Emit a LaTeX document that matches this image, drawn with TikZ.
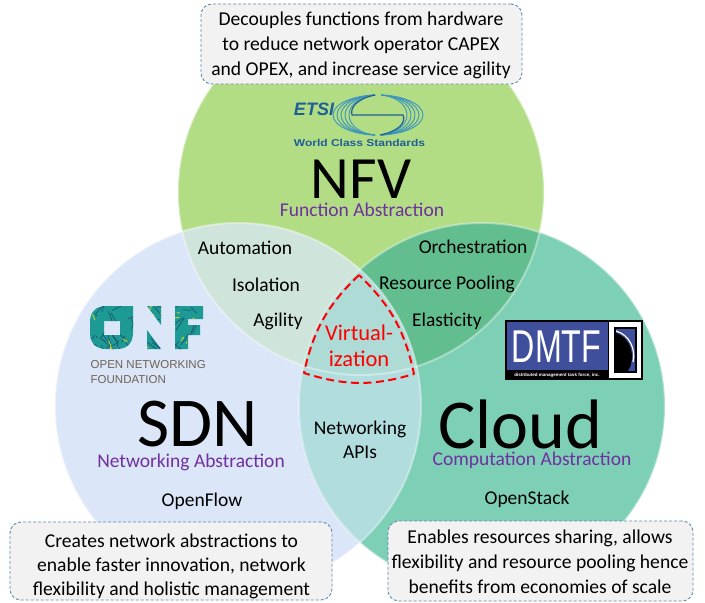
\documentclass[tikz,border=0pt]{standalone}
\usepackage{fontspec}
\setmainfont{Carlito}
\newfontfamily\logofont{Liberation Sans}
\definecolor{nfvc}{HTML}{B2DD85}
\definecolor{sdnc}{HTML}{DCE6F9}
\definecolor{cloudc}{HTML}{7DD0B6}
\definecolor{nsc}{HTML}{CFE4DA}
\definecolor{ncc}{HTML}{62BE8E}
\definecolor{scc}{HTML}{B2DDDE}
\definecolor{allc}{HTML}{AEDBD6}
\definecolor{purp}{HTML}{7030A0}
\definecolor{boxline}{HTML}{5F87B0}
\definecolor{etsib}{HTML}{1F5F96}
\definecolor{etsil}{HTML}{3E95BE}
\definecolor{onfg}{HTML}{1E9A94}
\definecolor{onfy}{HTML}{B9D038}
\definecolor{onfd}{HTML}{1B4D6B}
\definecolor{onft}{HTML}{6E6253}
\definecolor{dmtfb}{HTML}{3F4F9C}
\newcommand{\cN}{(361,192) circle[radius=183]}
\newcommand{\cS}{(238,406) circle[radius=183]}
\newcommand{\cC}{(482,406) circle[radius=183]}
\newcommand{\fs}[1]{\fontsize{#1}{#1}\selectfont}
\tikzset{
  x=1pt,y=-1pt,
  rim/.style={draw=white,draw opacity=.38,line width=2pt},
  note/.style={rectangle,rounded corners=11pt,draw=boxline,dash pattern=on 3pt off 2pt,line width=.9pt,fill=black!5,text=black,inner sep=0pt},
  notetext/.style={font=\fs{19.6},text=black,inner sep=0pt},
  big/.style={font=\fs{60},text=black,inner sep=0pt},
  bigger/.style={font=\fs{70},text=black,inner sep=0pt},
  abstr/.style={font=\fs{19.5},text=purp,inner sep=0pt},
  label/.style={font=\fs{19.5},text=black,inner sep=0pt},
  virt/.style={font=\fs{22.5},text=red,inner sep=0pt},
  onftext/.style={font=\logofont\fs{11.5},text=onft,inner sep=0pt,anchor=west},
  etsiband/.style={etsil,line width=.9pt},
}
\begin{document}
\begin{tikzpicture}
\useasboundingbox (0,0) rectangle (705,603);
\fill[white] (0,0) rectangle (705,603);
% circles and overlaps
\fill[nfvc] \cN;
\fill[sdnc] \cS;
\fill[cloudc] \cC;
\begin{scope}\clip \cN; \fill[nsc] \cS; \fill[ncc] \cC; \end{scope}
\begin{scope}\clip \cS; \fill[scc] \cC; \end{scope}
\begin{scope}\clip \cN; \clip \cS; \fill[allc] \cC; \end{scope}
\draw[rim] \cN; \draw[rim] \cS; \draw[rim] \cC;
% note boxes
\node[note,minimum width=321pt,minimum height=80pt] (topbox) at (361.5,44) {};
\node[note,minimum width=322pt,minimum height=78pt] (leftbox) at (171,561) {};
\node[note,minimum width=305pt,minimum height=80pt] (rightbox) at (540.5,561) {};
\node[notetext] (t1) at (361,20) {Decouples functions from hardware};
\node[notetext] (t2) at (361,45) {to reduce network operator CAPEX};
\node[notetext] (t3) at (361,70) {and OPEX, and increase service agility};
\node[notetext] (l1) at (171.5,541) {Creates network abstractions to};
\node[notetext] (l2) at (171.5,566) {enable faster innovation, network};
\node[notetext] (l3) at (171.5,590) {flexibility and holistic management};
\node[notetext] (r1) at (540,538) {Enables resources sharing, allows};
\node[notetext] (r2) at (540,563) {flexibility and resource pooling hence};
\node[notetext] (r3) at (540,587) {benefits from economies of scale};
% headings
\node[big] (nfv) at (361,179) {NFV};
\node[abstr] (nfva) at (362,210) {Function Abstraction};
\node[bigger] (sdn) at (198,424) {SDN};
\node[abstr] (sdna) at (191,462.5) {Networking Abstraction};
\node[bigger] (cloud) at (520,424) {Cloud};
\node[abstr] (clouda) at (532,460.5) {Computation Abstraction};
% labels
\node[label] (a1) at (245,248) {Automation};
\node[label] (a2) at (266,285) {Isolation};
\node[label] (a3) at (278,321) {Agility};
\node[label] (b1) at (473,247) {Orchestration};
\node[label] (b2) at (447,284) {Resource Pooling};
\node[label] (b3) at (447,321) {Elasticity};
\node[label] (c1) at (360,429) {Networking};
\node[label] (c2) at (360,452) {APIs};
\node[label] (d1) at (202,501) {OpenFlow};
\node[label] (d2) at (527,499) {OpenStack};
% virtualization
\coordinate (vt) at (359,275);
\coordinate (vl) at (304,373);
\coordinate (vr) at (414,374);
\draw[red,line width=2pt,dash pattern=on 8pt off 4.5pt,line join=round]
  (vt) to[bend right=17] (vl) to[bend right=17] (vr) to[bend right=17] cycle;
\node[virt] (v1) at (359,333) {Virtual-};
\node[virt] (v2) at (359,359) {ization};
% ETSI logo
\begin{scope}
  \clip (330,92) rectangle (375,138);
  \foreach \r in {45,41,37,33,29}{
    \draw[etsiband] (378,115) ellipse[x radius=\r,y radius=20];}
\end{scope}
\begin{scope}
  \clip (381,92) rectangle (426,138);
  \foreach \r in {45,41,37,33,29}{
    \draw[etsiband] (378,115) ellipse[x radius=\r,y radius=20];}
\end{scope}
\draw[etsib,line width=1.2pt] (375,95) .. controls (356,99) and (350,108) .. (352,115)
  -- (403,115) .. controls (406,122) and (400,131) .. (380,135);
\node[font=\logofont\bfseries\itshape\fs{18},text=etsib,inner sep=0pt] (etsi) at (314,109) {ETSI};
\node[font=\logofont\bfseries\fs{10},text=etsib,inner sep=0pt] (wcs) at (359.5,143) {\scalebox{1.2}[1]{World Class Standards}};
% ONF logo
\begin{scope}[even odd rule]
  \clip (90,322) .. controls (90,312) and (96,306) .. (106,306) -- (133,306) -- (133,333)
  .. controls (133,343) and (127,349) .. (117,349) -- (106,349) .. controls (96,349) and (90,343) .. (90,333) -- cycle
  (104,321) -- (120,321) -- (120,335) -- (104,335) -- cycle
  (147,306) -- (161,306) -- (161,325) -- cycle
  (147,330) -- (161,349) -- (147,349) -- cycle
  (175,306) -- (203,306) -- (203,319) -- (188,319) -- (188,325) -- (200,325) -- (200,335) -- (188,335) -- (188,349) -- (175,349) -- cycle;
  \fill[onfg] (85,300) rectangle (210,355);
  \pgfmathsetseed{7}
  \foreach \i in {1,...,70}{
    \pgfmathsetmacro{\xa}{88+rnd*118}
    \pgfmathsetmacro{\ya}{304+rnd*47}
    \pgfmathsetmacro{\xb}{\xa-12+rnd*24}
    \pgfmathsetmacro{\yb}{\ya-12+rnd*24}
    \draw[onfd,line width=.6pt] (\xa,\ya) -- (\xb,\yb);}
  \foreach \i in {1,...,26}{
    \pgfmathsetmacro{\xa}{88+rnd*118}
    \pgfmathsetmacro{\ya}{304+rnd*47}
    \pgfmathsetmacro{\xb}{\xa-6+rnd*12}
    \pgfmathsetmacro{\yb}{\ya-6+rnd*12}
    \draw[onfy,line width=1pt] (\xa,\ya) -- (\xb,\yb);}
\end{scope}
\node[onftext] (onf1) at (90.5,365) {OPEN NETWORKING};
\node[onftext] (onf2) at (90.5,380) {FOUNDATION};
% DMTF logo
\fill[black] (505,320) rectangle (643,380);
\fill[dmtfb] (507,322) rectangle (608,370);
\fill[white] (609,322) rectangle (641,378);
\fill[black] (614,327) rectangle (637,373);
\fill[dmtfb] (616,329) rectangle (635,371);
\fill[black] (616,345) -- (616,371) -- (628,371) .. controls (636,358) and (632,338) .. (616,333) -- cycle;
\draw[white,line width=1.2pt] (616,331) .. controls (630,335) and (636,350) .. (633,362);
\node[font=\logofont\fs{46},text=white,inner sep=0pt] (dmtf) at (556.5,346.5) {\scalebox{.7}[1]{DMTF}};
\node[font=\logofont\bfseries\fs{4.5},text=white,inner sep=0pt] (dmtfs) at (557,375) {distributed management task force, inc.};
\end{tikzpicture}
\end{document}
